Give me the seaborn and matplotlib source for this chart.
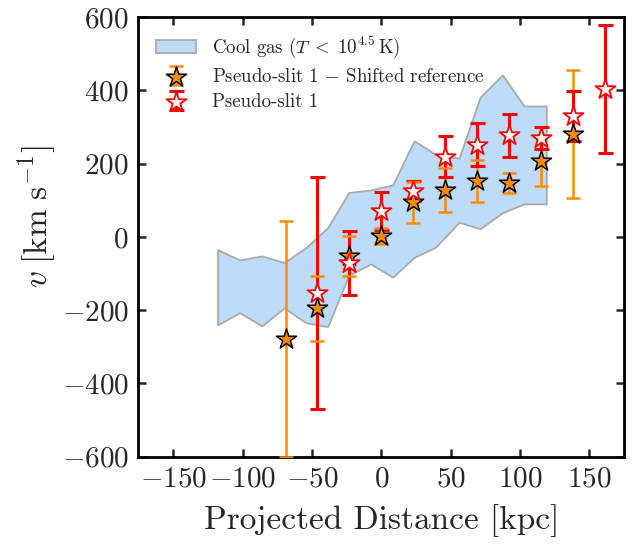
import matplotlib
matplotlib.use("Agg")
import matplotlib.pyplot as plt
import seaborn as sns
from matplotlib.legend_handler import HandlerTuple

# Cool gas envelope (T < 10^4.5 K): projected distance [kpc], upper / lower velocity [km/s]
gas_x = [-118, -102, -86, -70, -54.5, -38.6, -23.4, -7.6, 8.3, 23.7, 39.3, 56.1, 71.3, 87.4, 103, 119]
gas_hi = [-35, -63, -52, -70, -30, 25, 121, 128, 142, 262, 225, 215, 381, 442, 357, 357]
gas_lo = [-240, -207, -243, -194, -234, -245, -105, -74, -110, -56, -28, 40, 22, 66, 90, 90]

# Pseudo-slit 1, shifted reference
shift_x = [-69, -46, -23, 0, 23, 46, 69, 92, 115, 138]
shift_v = [-280, -195, -52, 2, 94, 127, 153, 147, 206, 280]
shift_err = [322, 88, 54, 21, 57, 60, 57, 28, 66, 174]

# Pseudo-slit 1
slit_x = [-46, -23, 0, 23, 46, 69, 92, 115, 138, 161]
slit_v = [-153, -71, 71, 125, 218, 252, 277, 271, 330, 404]
slit_err = [316, 87, 52, 28, 56, 60, 58, 30, 68, 174]

x_ticks = [-150, -100, -50, 0, 50, 100, 150]
y_ticks = [-600, -400, -200, 0, 200, 400, 600]

sns.set_theme(style="ticks")
plt.rcParams.update({
    "font.family": ["cmr10"],
    "mathtext.fontset": "cm",
    "axes.formatter.use_mathtext": True,
    "axes.unicode_minus": True,
})

fig = plt.figure(figsize=(6.32, 5.55), dpi=100)
ax = fig.add_axes([0.2191, 0.1771, 0.7682, 0.7923])

gas = ax.fill_between(gas_x, gas_lo, gas_hi, facecolor="#bcdcfa",
                      edgecolor="#aaaaaa", linewidth=1.3, zorder=1)

eb_shift = ax.errorbar(shift_x, shift_v, yerr=shift_err, fmt="none",
                       ecolor="darkorange", elinewidth=1.8, capsize=5.2,
                       capthick=1.8, zorder=2)
eb_slit = ax.errorbar(slit_x, slit_v, yerr=slit_err, fmt="none",
                      ecolor="red", elinewidth=2.2, capsize=5.4,
                      capthick=2.2, zorder=3)
for cap in eb_shift[1]:
    cap.set_zorder(3.5)

sns.scatterplot(x=shift_x, y=shift_v, marker="*", s=230, color="darkorange",
                edgecolor="black", linewidth=1.1, zorder=4, ax=ax, legend=False)
sc_shift = ax.collections[-1]
sns.scatterplot(x=slit_x, y=slit_v, marker="*", s=230, color="white",
                edgecolor="red", linewidth=1.3, zorder=5, ax=ax, legend=False)
sc_slit = ax.collections[-1]

ax.set_xlim(-175, 175)
ax.set_ylim(-600, 600)
ax.set_xticks(x_ticks)
ax.set_yticks(y_ticks)

ax.set_xlabel("Projected Distance [kpc]", fontsize=24, labelpad=8)
ax.set_ylabel(r"$v\;[\mathrm{km\ s^{-1}}]$", fontsize=24)
ax.yaxis.set_label_coords(-0.165, 0.545)

ax.tick_params(direction="in", top=True, right=True, length=6, width=1.8,
               labelsize=21, pad=7)
for sp in ax.spines.values():
    sp.set_linewidth(2)
    sp.set_color("black")

ax.legend([gas, (eb_shift, sc_shift), (eb_slit, sc_slit)],
          [r"Cool gas $(T\;<\;10^{4.5}\,\mathrm{K})$",
           r"Pseudo-slit 1 $-$ Shifted reference",
           "Pseudo-slit 1"],
          handler_map={tuple: HandlerTuple(ndivide=1)},
          loc="upper left", frameon=False, fontsize=13.6, scatterpoints=1,
          handlelength=2.1, handletextpad=0.85, labelspacing=0.4,
          borderaxespad=0.55)

fig.savefig("out.png", dpi=100)
